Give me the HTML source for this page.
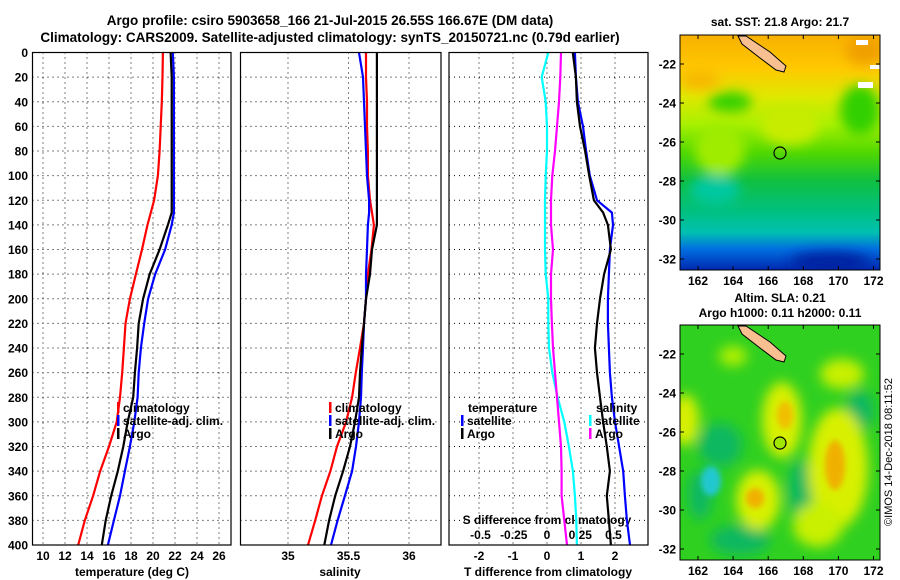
<!DOCTYPE html>
<html><head><meta charset="utf-8"><style>
html,body{margin:0;padding:0;background:#fff;}
svg{display:block;font-family:"Liberation Sans",Arial,sans-serif;font-weight:bold;}
</style></head><body>
<svg id="c" width="900" height="580" viewBox="0 0 900 580" xmlns="http://www.w3.org/2000/svg">
<defs>
<linearGradient id="sstg" x1="0" y1="0" x2="0" y2="1">
<stop offset="0" stop-color="#f8b000"/><stop offset="0.14" stop-color="#ffc800"/><stop offset="0.26" stop-color="#e0e800"/>
<stop offset="0.38" stop-color="#a8f000"/><stop offset="0.5" stop-color="#50d800"/><stop offset="0.62" stop-color="#10c040"/>
<stop offset="0.75" stop-color="#00c080"/><stop offset="0.84" stop-color="#00c0b0"/><stop offset="0.91" stop-color="#0070e0"/><stop offset="1" stop-color="#0028b0"/>
</linearGradient>
<filter id="bl" x="-50%" y="-50%" width="200%" height="200%"><feGaussianBlur stdDeviation="6"/></filter>
<filter id="bl2" x="-50%" y="-50%" width="200%" height="200%"><feGaussianBlur stdDeviation="3"/></filter>
<clipPath id="m1"><rect x="680" y="35" width="200" height="235"/></clipPath>
<clipPath id="m2"><rect x="680" y="325" width="200" height="235"/></clipPath>
</defs>
<text x="330" y="25" font-size="13.5" text-anchor="middle">Argo profile: csiro 5903658_166 21-Jul-2015 26.55S 166.67E (DM data)</text>
<text x="330" y="42" font-size="13.5" text-anchor="middle">Climatology: CARS2009. Satellite-adjusted climatology: synTS_20150721.nc (0.79d earlier)</text>

<!-- SST map -->
<g clip-path="url(#m1)">
<rect x="680" y="35" width="200" height="235" fill="url(#sstg)"/>
<g filter="url(#bl)">
<ellipse cx="720" cy="150" rx="25" ry="25" fill="#a0ec00"/>
<ellipse cx="790" cy="125" rx="30" ry="20" fill="#c8ec00"/>
<ellipse cx="860" cy="110" rx="20" ry="25" fill="#30d000"/>
<ellipse cx="730" cy="102" rx="22" ry="10" fill="#30d000"/>
<ellipse cx="865" cy="50" rx="20" ry="15" fill="#f0a000"/>
<ellipse cx="700" cy="80" rx="20" ry="10" fill="#f8b800"/>
<ellipse cx="830" cy="262" rx="40" ry="10" fill="#0020a0"/>
<ellipse cx="715" cy="190" rx="25" ry="15" fill="#00c8a0"/>
</g>
<polygon points="738,36 746,36 770,52 786,66 784,72 776,70 760,58 742,44" fill="#f8c090" stroke="#000" stroke-width="1"/>
<circle cx="780" cy="153" r="6" fill="none" stroke="#000" stroke-width="1.2"/>
<rect x="856" y="40" width="12" height="5" fill="#fff"/><rect x="870" y="65" width="10" height="4" fill="#fff"/><rect x="858" y="82" width="15" height="6" fill="#fff"/>
</g>
<rect x="680" y="35" width="200" height="235" fill="none" stroke="#000"/>
<text x="780" y="26" font-size="12" text-anchor="middle">sat. SST: 21.8 Argo: 21.7</text>

<!-- SLA map -->
<g clip-path="url(#m2)">
<rect x="680" y="325" width="200" height="235" fill="#30d020"/>
<g filter="url(#bl)">
<ellipse cx="720" cy="445" rx="22" ry="22" fill="#10b860"/>
<ellipse cx="700" cy="495" rx="12" ry="25" fill="#10b860"/>
<ellipse cx="800" cy="490" rx="12" ry="30" fill="#10b860"/>
<ellipse cx="860" cy="410" rx="14" ry="20" fill="#10b860"/>
<ellipse cx="740" cy="540" rx="30" ry="15" fill="#10b860"/>
<ellipse cx="782" cy="420" rx="20" ry="38" fill="#d8f000"/>
<ellipse cx="838" cy="468" rx="30" ry="60" fill="#d8f000"/>
<ellipse cx="758" cy="500" rx="22" ry="30" fill="#d8f000"/>
<ellipse cx="685" cy="420" rx="14" ry="26" fill="#d8f000"/>
<ellipse cx="842" cy="374" rx="22" ry="15" fill="#c8f000"/>
<ellipse cx="818" cy="525" rx="25" ry="22" fill="#c8f000"/>
<ellipse cx="733" cy="356" rx="14" ry="10" fill="#b0f000"/>
</g>
<g filter="url(#bl2)">
<ellipse cx="785" cy="415" rx="8" ry="14" fill="#f0c000"/>
<ellipse cx="835" cy="465" rx="10" ry="25" fill="#f0b000"/>
<ellipse cx="755" cy="498" rx="9" ry="10" fill="#f0b000"/>
<ellipse cx="711" cy="481" rx="10" ry="15" fill="#20c8d0"/>
</g>
<polygon points="738,326 746,326 770,342 786,356 784,362 776,360 760,348 742,334" fill="#f8c090" stroke="#000" stroke-width="1"/>
<circle cx="780" cy="443" r="6" fill="#a0e800" stroke="#000" stroke-width="1.2"/>
</g>
<rect x="680" y="325" width="200" height="235" fill="none" stroke="#000"/>
<text x="780" y="302" font-size="12" text-anchor="middle">Altim. SLA: 0.21</text>
<text x="780" y="317" font-size="12" text-anchor="middle">Argo h1000: 0.11 h2000: 0.11</text>
<text transform="translate(892,452) rotate(-90)" font-size="11" font-weight="normal" text-anchor="middle">©IMOS 14-Dec-2018 08:11:52</text>
<g id="maxes"></g>
<g id="plots"></g>
</svg>
<script>
const depths=[0,20,40,60,80,100,120,130,140,160,180,200,220,240,260,280,300,320,340,360,380,400];
const tempClim=[20.9,20.86,20.8,20.7,20.6,20.45,20.1,19.8,19.5,19.0,18.45,17.9,17.5,17.35,17.2,17.0,16.7,16.0,15.2,14.55,13.8,13.2];
const tempSat=[21.8,21.9,21.9,21.9,21.9,21.9,21.9,21.9,21.7,21.1,20.2,19.55,19.2,18.9,18.7,18.6,18.3,17.9,17.45,17.0,16.45,15.9];
const tempArgo=[21.6,21.7,21.7,21.7,21.7,21.7,21.7,21.7,21.35,20.6,19.7,19.1,18.7,18.55,18.35,18.2,17.7,17.3,16.8,16.2,15.7,15.35];
const salClim=[35.645,35.645,35.653,35.653,35.66,35.66,35.678,35.694,35.71,35.69,35.66,35.645,35.628,35.595,35.56,35.53,35.48,35.405,35.35,35.28,35.225,35.165];
const salSat=[35.587,35.62,35.628,35.636,35.645,35.653,35.67,35.67,35.66,35.653,35.645,35.645,35.628,35.62,35.61,35.603,35.587,35.562,35.53,35.47,35.41,35.355];
const salArgo=[35.735,35.735,35.735,35.735,35.735,35.735,35.735,35.735,35.735,35.694,35.678,35.645,35.628,35.61,35.595,35.587,35.554,35.512,35.455,35.39,35.34,35.3];
const dTSat=[0.82,0.85,0.91,1.06,1.15,1.26,1.47,1.91,1.94,1.85,1.82,1.79,1.79,1.82,1.85,1.91,2.0,2.12,2.24,2.29,2.35,2.44];
const dTArgo=[0.76,0.85,0.88,0.97,1.12,1.24,1.38,1.65,1.79,1.88,1.68,1.56,1.47,1.41,1.47,1.56,1.65,1.76,1.85,1.76,1.82,1.88];
const dSSat=[0.01,-0.04,-0.01,0,0,-0.01,-0.015,-0.015,-0.015,-0.015,-0.01,0.01,0.01,0.015,0.04,0.08,0.13,0.165,0.195,0.21,0.22,0.225];
const dSArgo=[0.105,0.1,0.09,0.075,0.06,0.04,0.03,0.03,0.03,0.045,0.03,0.03,0.037,0.045,0.06,0.075,0.09,0.105,0.11,0.11,0.13,0.15];
const depthTicks=[0,20,40,60,80,100,120,140,160,180,200,220,240,260,280,300,320,340,360,380,400];
const tempTicks=[10,12,14,16,18,20,22,24,26];
const salTicks=[35,35.5,36];
const salTickLabels=["35","35.5","36"];
const dTTicks=[-2,-1,0,1,2];
const dSTicks=[-0.5,-0.25,0,0.25,0.5];
const dSTickLabels=["-0.5","-0.25","0","0.25","0.5"];
const latTicks=[-22,-24,-26,-28,-30,-32];
const lonTicks=[162,164,166,168,170,172];

const NS="http://www.w3.org/2000/svg";
const plots=document.getElementById('plots');
function mk(tag,attrs,parent,text){const e=document.createElementNS(NS,tag);for(const k in attrs)e.setAttribute(k,attrs[k]);if(text!==undefined)e.textContent=text;(parent||plots).appendChild(e);return e;}
const Y0=52.5,Y1=545;
const yD=d=>Y0+(d/400)*(Y1-Y0);
const xT=t=>43+(t-10)*11;
const xS=s=>288+(s-35)*121;
const xDT=t=>547+t*34;
const xDS=s=>547+s*133;
const panels=[[32.5,231],[240.5,441],[449,648]];

function grid(p,xs){
  const [a,b]=p;
  for(const d of depthTicks){ if(d===0||d===400)continue;
    const l=mk('line',{x1:a,x2:b,y1:yD(d),y2:yD(d),stroke:'#000','stroke-dasharray':'1,4','stroke-width':1});
    
    }
  for(const x of xs){
    const l=mk('line',{x1:x,x2:x,y1:Y0,y2:Y1,stroke:'#000','stroke-dasharray':'1,4','stroke-width':1});
    
    }
}
function frame(p,name){const r=mk('rect',{x:p[0],y:Y0,width:p[1]-p[0],height:Y1-Y0,fill:'none',stroke:'#000','stroke-width':1.2});
  
  }
function line(xs,xf,color,name){
  const pts=xs.map((v,i)=>xf(v).toFixed(1)+','+yD(depths[i]).toFixed(1)).join(' ');
  const l=mk('polyline',{points:pts,fill:'none',stroke:color,'stroke-width':2.2});
  
  }
function txt(x,y,s,opts,name){const t=mk('text',Object.assign({x:x,y:y,'font-size':12},opts||{}),plots,s);
  
  return t;}

grid(panels[0],tempTicks.map(xT));
grid(panels[1],salTicks.map(xS));
grid(panels[2],dTTicks.map(xDT));

for(const d of depthTicks) txt(28,yD(d)+4.5,String(d),{'text-anchor':'end'},'y-tick-label');
tempTicks.forEach(t=>txt(xT(t),560,String(t),{'text-anchor':'middle'},'x-tick-label-temperature'));
salTicks.forEach((t,i)=>txt(xS(t),560,salTickLabels[i],{'text-anchor':'middle'},'x-tick-label-salinity'));
dTTicks.forEach(t=>txt(xDT(t),560,String(t),{'text-anchor':'middle'},'x-tick-label-t-diff'));
dSTicks.forEach((t,i)=>txt(xDS(t),539,dSTickLabels[i],{'text-anchor':'middle'},'x-tick-label-s-diff'));
txt(132,576,'temperature (deg C)',{'text-anchor':'middle'},'x-axis-title-temperature');
txt(340,576,'salinity',{'text-anchor':'middle'},'x-axis-title-salinity');
txt(548,576,'T difference from climatology',{'text-anchor':'middle'},'x-axis-title-t-diff');
txt(547,524,'S difference from climatology',{'text-anchor':'middle'},'x-axis-title-s-diff');

line(tempClim,xT,'#ff0000','temperature-climatology-line');
line(tempSat,xT,'#0000ff','temperature-satellite-line');
line(tempArgo,xT,'#000000','temperature-argo-line');
line(salClim,xS,'#ff0000','salinity-climatology-line');
line(salSat,xS,'#0000ff','salinity-satellite-line');
line(salArgo,xS,'#000000','salinity-argo-line');
line(dSSat,xDS,'#00ffff','s-diff-satellite-line');
line(dSArgo,xDS,'#ff00ff','s-diff-argo-line');
line(dTSat,xDT,'#0000ff','t-diff-satellite-line');
line(dTArgo,xDT,'#000000','t-diff-argo-line');

frame(panels[0],'temperature-panel');frame(panels[1],'salinity-panel');frame(panels[2],'difference-panel');

function legend(x,y,color,label){
  const b=mk('rect',{x:x,y:y-10,width:2.5,height:11,fill:color});
  
  
  txt(x+6,y,label,{},'legend-entry');
}
legend(117,412,'#ff0000','climatology');legend(117,425,'#0000ff','satellite-adj. clim.');legend(117,438,'#000000','Argo');
legend(329,412,'#ff0000','climatology');legend(329,425,'#0000ff','satellite-adj. clim.');legend(329,438,'#000000','Argo');
txt(468,412,'temperature',{},'legend-title-temperature');
legend(461,425,'#0000ff','satellite');legend(461,438,'#000000','Argo');
txt(596,412,'salinity',{},'legend-title-salinity');
legend(589,425,'#00ffff','satellite');legend(589,438,'#ff00ff','Argo');

// map axes
const maxes=document.getElementById('maxes');
function mapAxes(top,latY0,latY1,nm){
  latTicks.forEach((la,i)=>{const y=latY0+i*(latY1-latY0)/5;
    const t=mk('text',{x:676,y:y+4.5,'font-size':12,'text-anchor':'end'},maxes,String(la));
    
    
    mk('line',{x1:680,x2:684,y1:y,y2:y,stroke:'#000'},maxes);
    mk('line',{x1:876,x2:880,y1:y,y2:y,stroke:'#000'},maxes);});
  lonTicks.forEach((lo,i)=>{const x=698+i*(873.5-698)/5;
    const t=mk('text',{x:x,y:top+235+15,'font-size':12,'text-anchor':'middle'},maxes,String(lo));
    
    
    mk('line',{x1:x,x2:x,y1:top,y2:top+4,stroke:'#000'},maxes);
    mk('line',{x1:x,x2:x,y1:top+231,y2:top+235,stroke:'#000'},maxes);});
}
mapAxes(35,64,259,'sst-map');
mapAxes(325,354,549,'sla-map');
</script>
</body></html>
